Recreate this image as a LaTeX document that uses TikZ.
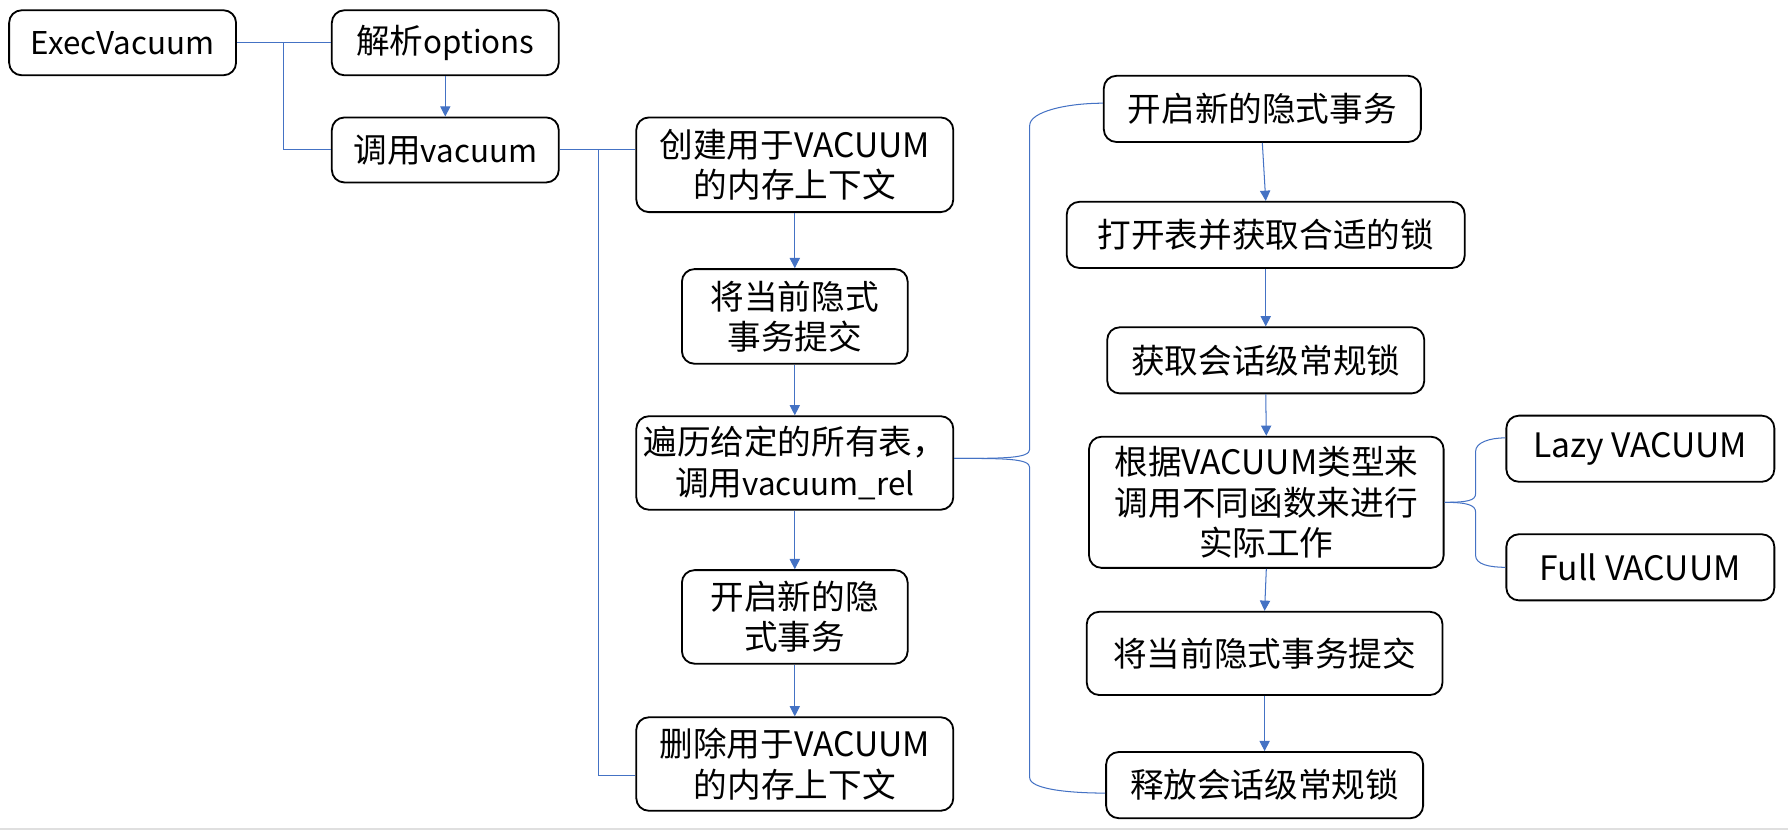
\documentclass[tikz,border=0pt]{standalone}
\usepackage{fontspec}
\setmainfont{Noto Sans CJK SC}
\usetikzlibrary{arrows.meta,calc}
\definecolor{lnblue}{HTML}{4472C4}
\newcommand\latw[1]{{\fontsize{27.5}{35.5}\selectfont #1}}
\begin{document}
\begin{tikzpicture}[x=1pt,y=-1pt,
  box/.style={draw=black,line width=1.6pt,rounded corners=11pt,align=center,
    inner sep=0pt,font=\fontsize{29.5}{35.5}\selectfont},
  conn/.style={draw=lnblue,line width=0.9pt},
  arr/.style={conn,-{Triangle[length=9pt,width=9pt]}}]
\useasboundingbox (0,0) rectangle (1568,728);
% left
\node[box,minimum width=199pt,minimum height=57pt] (exec) at (107.5,37.5) {\latw{ExecVacuum}};
\node[box,minimum width=199pt,minimum height=57pt] (opt) at (390.5,37.5) {解析\latw{options}};
\node[box,minimum width=199pt,minimum height=57pt] (call) at (390.5,131.5) {调用\latw{vacuum}};
% middle
\node[box,minimum width=278pt,minimum height=83pt] (create) at (697,144.5) {创建用于VACUUM\\的内存上下文};
\node[box,minimum width=198pt,minimum height=83pt] (commitA) at (697,277.5) {将当前隐式\\事务提交};
\node[box,minimum width=278pt,minimum height=82pt] (loop) at (697,406) {遍历给定的所有表，\\调用\latw{vacuum\_rel}};
\node[box,minimum width=198pt,minimum height=82pt] (beginA) at (697,541) {开启新的隐\\式事务};
\node[box,minimum width=278pt,minimum height=82pt] (delete) at (697,670) {删除用于VACUUM\\的内存上下文};
% right
\node[box,minimum width=278pt,minimum height=58pt] (beginB) at (1107,95.5) {开启新的隐式事务};
\node[box,minimum width=349pt,minimum height=58pt] (open) at (1110,206) {打开表并获取合适的锁};
\node[box,minimum width=278pt,minimum height=58pt] (lock) at (1110,316) {获取会话级常规锁};
\node[box,minimum width=311pt,minimum height=115pt] (dispatch) at (1110.5,440.5) {根据VACUUM类型来\\调用不同函数来进行\\实际工作};
\node[box,minimum width=312pt,minimum height=73pt] (commitB) at (1109,573) {将当前隐式事务提交};
\node[box,minimum width=278pt,minimum height=58pt] (release) at (1109,688.5) {释放会话级常规锁};
\node[box,minimum width=235pt,minimum height=58pt] (lazy) at (1438.5,393.5) {Lazy VACUUM};
\node[box,minimum width=235pt,minimum height=58pt] (full) at (1438.5,497.5) {Full VACUUM};
% left connectors
\coordinate (j1) at ($(exec.east)!0.5!(opt.west)$);
\coordinate (j2) at ($(call.east)+(34,0)$);
\draw[conn] (exec.east) -- (opt.west);
\draw[conn] (j1) |- (call.west);
\draw[arr] (opt.south) -- (call.north);
\draw[conn] (call.east) -- (call.east -| create.west);
\draw[conn] (j2) |- ([yshift=-10pt]delete.west);
% middle arrows
\draw[arr] (create.south) -- (commitA.north);
\draw[arr] (commitA.south) -- (loop.north);
\draw[arr] (loop.south) -- (beginA.north);
\draw[arr] (beginA.south) -- (delete.north);
% right arrows
\draw[arr] (beginB.south) -- (open.north);
\draw[arr] (open.south) -- (lock.north);
\draw[arr] (lock.south) -- (dispatch.north);
\draw[arr] (dispatch.south) -- (commitB.north);
\draw[arr] (commitB.south) -- (release.north);
% left brace
\coordinate (lb) at ([yshift=4pt]loop.east);
\coordinate (lt) at ([yshift=5pt]beginB.west);
\coordinate (lbt) at ([yshift=-7pt]release.west);
\draw[conn] (lb) .. controls +(44,0) and +(0,8) .. (903,394) -- (903,110) .. controls +(0,-12) and +(-32,0) .. (lt);
\draw[conn] (lb) .. controls +(44,0) and +(0,-8) .. (903,410) -- (903,682) .. controls +(0,10) and +(-32,0) .. (lbt);
% right brace
\coordinate (rb) at (dispatch.east);
\coordinate (rt) at ([yshift=9.5pt]lazy.west);
\coordinate (rbt) at (full.west);
\draw[conn] (rb) .. controls +(20,0) and +(0,6) .. (1294,433) -- (1294,396) .. controls +(0,-8) and +(-14,0) .. (rt);
\draw[conn] (rb) .. controls +(20,0) and +(0,-6) .. (1294,449) -- (1294,487) .. controls +(0,8) and +(-14,0) .. (rbt);
% bottom rule
\draw[gray!25,line width=1.5pt] (0,727) -- (1568,727);
\end{tikzpicture}
\end{document}
